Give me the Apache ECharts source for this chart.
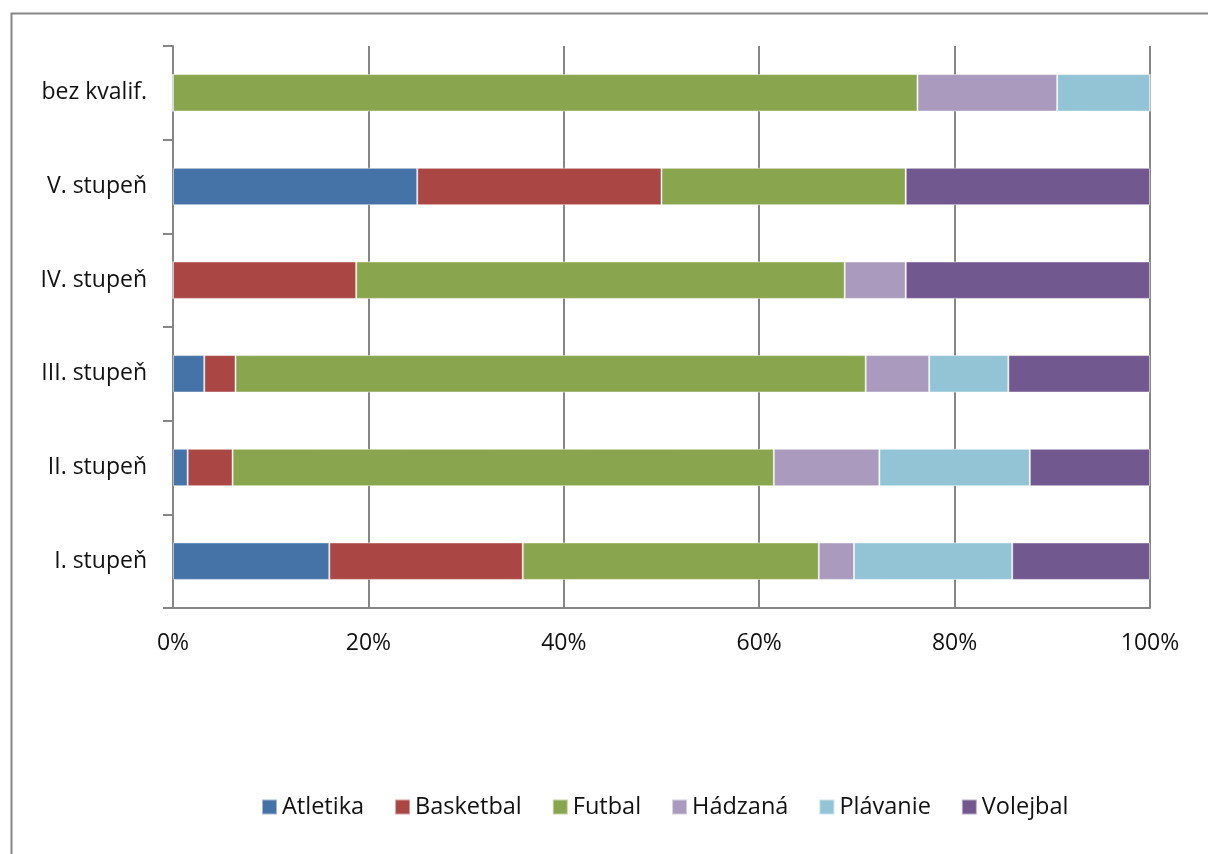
<!DOCTYPE html>
<html><head><meta charset="utf-8">
<script src="https://cdn.jsdelivr.net/npm/echarts@6/dist/echarts.min.js"></script>
<style>html,body{margin:0;padding:0;background:#fff}#c{width:1208px;height:854px}</style>
</head><body><div id="c"></div>
<script>
const categories = ['I. stupeň','II. stupeň','III. stupeň','IV. stupeň','V. stupeň','bez kvalif.'];
const seriesNames = ['Atletika','Basketbal','Futbal','Hádzaná','Plávanie','Volejbal'];
const atletika  = [16.0, 1.5, 3.2, 0, 25, 0];
const basketbal = [19.8, 4.6, 3.2, 18.75, 25, 0];
const futbal    = [30.3, 55.4, 64.5, 50, 25, 76.2];
const hadzana   = [3.6, 10.8, 6.5, 6.25, 0, 14.3];
const plavanie  = [16.2, 15.4, 8.1, 0, 0, 9.5];
const volejbal  = [14.1, 12.3, 14.5, 25, 25, 0];
const xTicks = [0, 20, 40, 60, 80, 100];
const colors = ['#4572A7','#AA4643','#89A54E','#AA9BBE','#93C4D5','#71588F'];
const values = [atletika, basketbal, futbal, hadzana, plavanie, volejbal];

const font = '"Open Sans", "Noto Sans", sans-serif';
const chart = echarts.init(document.getElementById('c'));
chart.setOption({
  animation: false,
  color: colors,
  graphic: [{type:'rect', left: 9, top: 11, shape:{width:1220, height:870}, style:{fill:'none', stroke:'#868686', lineWidth:2}, silent:true}],
  grid: {left: 173, right: 58, top: 46, bottom: 246, containLabel: false},
  legend: {
    bottom: 30, left: 256, itemWidth: 15, itemHeight: 15, itemGap: 30, icon: 'rect',
    textStyle: {fontFamily: font, fontSize: 23.5, color: '#111'},
    data: seriesNames
  },
  xAxis: {
    type: 'value', min: 0, max: 100, interval: 20,
    axisLine: {show: true, lineStyle: {color: '#868686', width: 2}},
    axisTick: {show: false},
    splitLine: {show: true, lineStyle: {color: '#868686', width: 2}},
    axisLabel: {fontFamily: font, fontSize: 23, color: '#111', margin: 24, formatter: v => v + '%'}
  },
  yAxis: {
    type: 'category', data: categories,
    axisLine: {show: true, lineStyle: {color: '#868686', width: 2}},
    axisTick: {show: true, length: 10, lineStyle: {color: '#868686', width: 2}},
    axisLabel: {fontFamily: font, fontSize: 23, color: '#111', margin: 26}
  },
  series: values.map((d, i) => ({
    name: seriesNames[i], type: 'bar', stack: 'total', barWidth: '40%',
    itemStyle: {borderColor: 'rgba(255,255,255,0.5)', borderWidth: 1},
    data: d
  }))
});
</script></body></html>
